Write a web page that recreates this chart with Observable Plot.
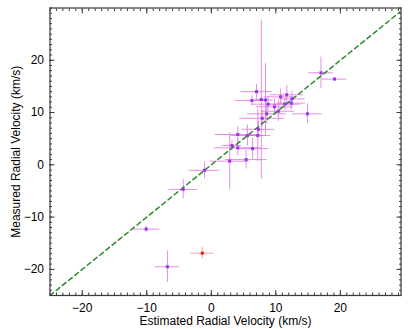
<!DOCTYPE html>
<html><head><meta charset="utf-8">
<script src="https://cdn.jsdelivr.net/npm/d3@7"></script>
<script src="https://cdn.jsdelivr.net/npm/@observablehq/plot@0.6"></script>
<style>
body{margin:0;background:#fff}
svg{font-family:"Liberation Sans",Arial,Helvetica,sans-serif;}
</style>
</head><body><div id="chart"></div>
<script>
// Estimated (x) and measured (y) radial velocities, km/s, with 1-sigma errors
const estimated = [19.1, 17.0, 7.0, 6.3, 7.75, 8.4, 8.8, 9.8, 10.75, 11.7, 12.5, 11.4, 12.4, 10.4, 8.6, 14.9, 7.9, 7.3, 4.1, 5.6, 7.2, 3.2, 4.1, 6.4, 2.85, 5.4, -1.05, -4.35, -10.1, -6.8, -1.4];
const measured  = [16.4, 17.6, 14.0, 12.3, 12.5, 12.4, 11.6, 11.1, 13.0, 13.4, 12.6, 11.6, 11.8, 10.25, 9.75, 9.75, 8.9, 6.8, 5.8, 5.6, 5.6, 3.7, 3.25, 3.1, 0.7, 1.0, -1.05, -4.7, -12.3, -19.5, -16.9];
const estErr    = [1.9, 1.9, 2.4, 2.5, 1.0, 1.2, 2.5, 2.8, 2.5, 2.6, 2.0, 2.5, 2.2, 2.5, 3.0, 2.3, 3.5, 2.5, 3.5, 2.5, 2.0, 1.5, 3.6, 2.5, 3.0, 3.2, 2.4, 2.2, 2.1, 1.9, 1.8];
const measErr   = [0.3, 3.0, 1.4, 1.0, 15.2, 7.0, 1.5, 1.5, 1.5, 1.8, 1.5, 1.2, 1.3, 2.0, 2.0, 1.9, 1.5, 1.5, 1.5, 2.0, 5.0, 1.0, 1.5, 2.0, 5.4, 1.8, 1.6, 1.85, 0.6, 3.0, 1.1];
const outlier   = [0,0,0,0,0,0,0,0,0,0,0,0,0,0,0,0,0,0,0,0,0,0,0,0,0,0,0,0,0,0,1];

const xTickValues = [-20, -10, 0, 10, 20];
const yTickValues = [-20, -10, 0, 10, 20];
const xDomain = [-25, 29.4];
const yDomain = [-25, 30];
const identityLine = [-25, 30];
const xLabel = "Estimated Radial Velocity (km/s)";
const yLabel = "Measured Radial Velocity (km/s)";

const rows = estimated.map((x, i) => ({x, y: measured[i], xe: estErr[i], ye: measErr[i], out: outlier[i] === 1}));
const normal = rows.filter(d => !d.out);
const odd = rows.filter(d => d.out);
const minorX = d3.range(-25, 30, 1).filter(v => v >= xDomain[0] && v <= xDomain[1]);
const minorY = d3.range(-25, 31, 1);
const fmt = d => d < 0 ? "\u2212" + Math.abs(d) : String(d);
const axisColor = "#3a3a3a";

const chart = Plot.plot({
  width: 411,
  height: 329,
  marginLeft: 49.5,
  marginRight: 10.5,
  marginTop: 7.5,
  marginBottom: 34,
  style: {fontSize: "12px", fontFamily: "'Liberation Sans', Arial, Helvetica, sans-serif", color: "#000", background: "#fff"},
  x: {domain: xDomain},
  y: {domain: yDomain},
  marks: [
    // error bars
    Plot.ruleY(normal, {y: "y", x1: d => d.x - d.xe, x2: d => d.x + d.xe, stroke: "#e070e0", strokeOpacity: 0.8, strokeWidth: 1}),
    Plot.ruleX(normal, {x: "x", y1: d => d.y - d.ye, y2: d => d.y + d.ye, stroke: "#e070e0", strokeOpacity: 0.8, strokeWidth: 1}),
    Plot.ruleY(odd, {y: "y", x1: d => d.x - d.xe, x2: d => d.x + d.xe, stroke: "#f4a6b4", strokeWidth: 1}),
    Plot.ruleX(odd, {x: "x", y1: d => d.y - d.ye, y2: d => d.y + d.ye, stroke: "#f4a6b4", strokeWidth: 1}),
    // identity line
    Plot.line(identityLine, {x: d => d, y: d => d, stroke: "#2a8c2a", strokeWidth: 1.5, strokeDasharray: "4.5,3.5", clip: true}),
    // points
    Plot.dot(normal, {x: "x", y: "y", symbol: "square", r: 1.7, fill: "#9a33f0", stroke: "none"}),
    Plot.dot(odd, {x: "x", y: "y", symbol: "square", r: 1.7, fill: "#ff1010", stroke: "none"}),
    // frame
    Plot.frame({stroke: axisColor, strokeWidth: 1.2}),
    // minor ticks (inward, all four sides)
    Plot.axisX(minorX, {anchor: "bottom", tickSize: -2.5, text: null, label: null, stroke: axisColor}),
    Plot.axisX(minorX, {anchor: "top", tickSize: -2.5, text: null, label: null, stroke: axisColor}),
    Plot.axisY(minorY, {anchor: "left", tickSize: -2.5, text: null, label: null, stroke: axisColor}),
    Plot.axisY(minorY, {anchor: "right", tickSize: -2.5, text: null, label: null, stroke: axisColor}),
    // major ticks
    Plot.axisX(xTickValues, {anchor: "bottom", tickSize: -5, text: null, label: null, stroke: axisColor}),
    Plot.axisX(xTickValues, {anchor: "top", tickSize: -5, text: null, label: null, stroke: axisColor}),
    Plot.axisY(yTickValues, {anchor: "left", tickSize: -5, text: null, label: null, stroke: axisColor}),
    Plot.axisY(yTickValues, {anchor: "right", tickSize: -5, text: null, label: null, stroke: axisColor}),
    // tick labels
    Plot.axisX(xTickValues, {anchor: "bottom", tickSize: 0, tickPadding: 8, tickFormat: fmt, label: null, fill: "#000"}),
    Plot.axisY(yTickValues, {anchor: "left", tickSize: 0, tickPadding: 6, tickFormat: fmt, label: null, fill: "#000"}),
    // axis titles
    Plot.text([xLabel], {frameAnchor: "bottom", dy: 26, text: d => d, fill: "#000", fontSize: 12, textAnchor: "middle", lineAnchor: "middle"}),
    Plot.text([yLabel], {frameAnchor: "left", dx: -34, rotate: -90, text: d => d, fill: "#000", fontSize: 12, textAnchor: "middle", lineAnchor: "middle"})
  ]
});
document.getElementById("chart").appendChild(chart);
</script>
</body></html>
